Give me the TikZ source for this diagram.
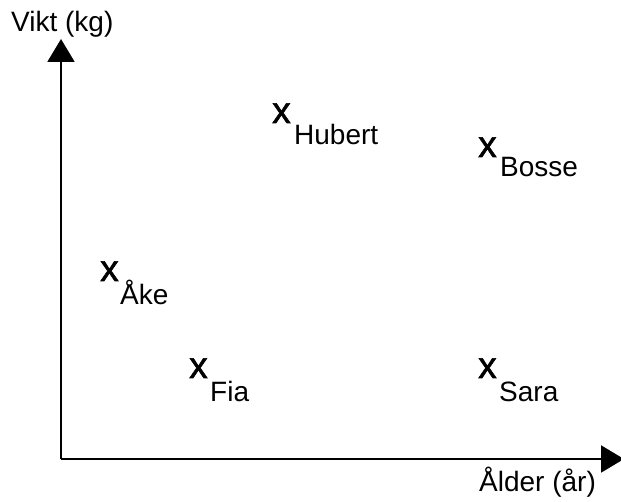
\documentclass[tikz,border=0pt]{standalone}
\usepackage{fontspec}
\setmainfont{Liberation Sans}
\newfontfamily\xmkfont[FakeBold=1.5]{Liberation Sans}
\usetikzlibrary{arrows.meta}
\begin{document}
\begin{tikzpicture}[x=1pt,y=1pt,
  lbl/.style={anchor=base west,inner sep=0pt,font=\fontsize{28}{32}\selectfont},
  xmk/.style={anchor=base west,inner sep=0pt,font=\xmkfont\fontsize{37}{42}\selectfont},
  axis/.style={line width=2pt,-{Triangle[width=27pt,length=23pt]}}]
\useasboundingbox (0,0) rectangle (621,502);
\coordinate (o) at (61,43);
\coordinate (ytip) at (61,463);
\coordinate (xtip) at (624,43);
\draw[axis] (o) -- (ytip);
\draw[axis] (o) -- (xtip);
\node[lbl] (ylab) at (11,470) {Vikt (kg)};
\node[lbl] (xlab) at (479,10) {Ålder (år)};
\node[xmk] (hx) at (272,379) {x};
\node[lbl] (hl) at (294,357) {Hubert};
\node[xmk] (bx) at (478,345) {x};
\node[lbl] (bl) at (500,325) {Bosse};
\node[xmk] (ax) at (100,221) {x};
\node[lbl] (al) at (120,197) {Åke};
\node[xmk] (fx) at (189,124) {x};
\node[lbl] (fl) at (210,100) {Fia};
\node[xmk] (sx) at (478,124) {x};
\node[lbl] (sl) at (499,100) {Sara};
\end{tikzpicture}
\end{document}
